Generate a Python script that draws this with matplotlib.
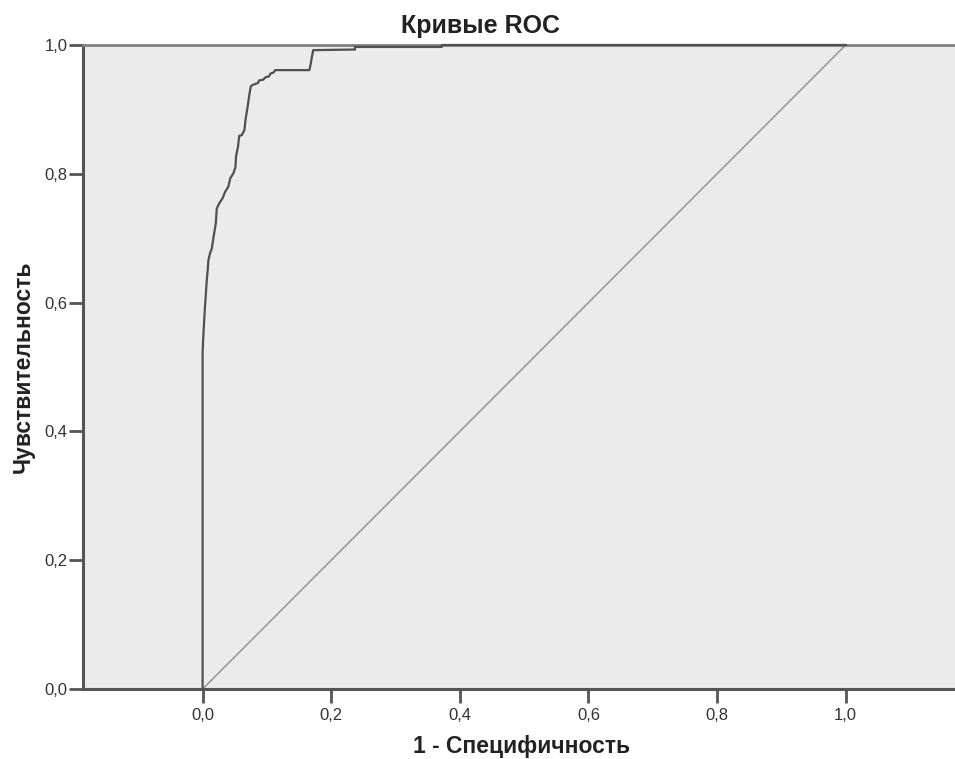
import matplotlib
matplotlib.use("Agg")
import matplotlib.pyplot as plt

plt.rcParams['font.family'] = ['Liberation Sans', 'DejaVu Sans']

# ROC curve (1 - specificity, sensitivity)
fpr = [0.0, 0.0, 0.0013, 0.0034, 0.0065, 0.008, 0.009, 0.0117, 0.0143, 0.017,
       0.0205, 0.022, 0.0257, 0.031, 0.035, 0.040, 0.043, 0.048, 0.051, 0.052,
       0.055, 0.057, 0.061, 0.065, 0.067, 0.070, 0.073, 0.075, 0.078, 0.086,
       0.088, 0.094, 0.098, 0.103, 0.106, 0.110, 0.113, 0.166, 0.168, 0.170,
       0.172, 0.237, 0.237, 0.372, 0.372, 1.0]
tpr = [0.0, 0.522, 0.552, 0.589, 0.635, 0.651, 0.666, 0.677, 0.684, 0.702,
       0.723, 0.746, 0.754, 0.762, 0.772, 0.780, 0.793, 0.801, 0.810, 0.827,
       0.842, 0.859, 0.860, 0.868, 0.886, 0.904, 0.925, 0.936, 0.938, 0.941,
       0.945, 0.946, 0.950, 0.951, 0.956, 0.957, 0.961, 0.961, 0.970, 0.982,
       0.992, 0.993, 0.997, 0.997, 1.0, 1.0]

# reference diagonal
ref_x = [0.0, 1.0]
ref_y = [0.0, 1.0]

xticks = [0.0, 0.2, 0.4, 0.6, 0.8, 1.0]
yticks = [0.0, 0.2, 0.4, 0.6, 0.8, 1.0]
tick_labels = ["0,0", "0,2", "0,4", "0,6", "0,8", "1,0"]

title = "Кривые ROC"
xlabel = "1 - Специфичность"
ylabel = "Чувствительность"

fig = plt.figure(figsize=(9.55, 7.59), dpi=100)
ax = fig.add_axes([83/955, 70/759, 872/955, 644/759])
ax.set_facecolor('#ebebeb')

ax.plot(ref_x, ref_y, color='#9a9a9a', lw=1.2, zorder=2)
ax.plot(fpr, tpr, color='#505050', lw=1.6, zorder=3, clip_on=False)

ax.set_xlim(-0.186, 1.170)
ax.set_ylim(0, 1)

ax.set_xticks(xticks)
ax.set_xticklabels(tick_labels)
ax.set_yticks(yticks)
ax.set_yticklabels(tick_labels)
ax.tick_params(axis='x', direction='out', length=10, width=2, color='#555555',
               labelsize=12, labelcolor='#333333', pad=4)
ax.tick_params(axis='y', direction='out', length=10, width=2, color='#555555',
               labelsize=12, labelcolor='#333333', pad=1)

for side in ['left', 'bottom']:
    ax.spines[side].set_color('#555555')
    ax.spines[side].set_linewidth(2.2)
ax.spines['top'].set_color('#808080')
ax.spines['top'].set_linewidth(2)
ax.spines['right'].set_visible(False)

ax.set_xlabel(xlabel, fontsize=16.5, fontweight='bold', color='#222222', va='center')
ax.xaxis.set_label_coords((522 - 83) / 872, (689 - 746) / 644)
ax.set_ylabel(ylabel, fontsize=16.5, fontweight='bold', color='#222222', va='center')
ax.yaxis.set_label_coords((23 - 83) / 872, (689 - 367) / 644)
fig.text(480/955, 1 - 33/759, title, fontsize=18, fontweight='bold', color='#222222',
         ha='center', va='baseline')

fig.savefig('out.png', dpi=100, facecolor='white')
